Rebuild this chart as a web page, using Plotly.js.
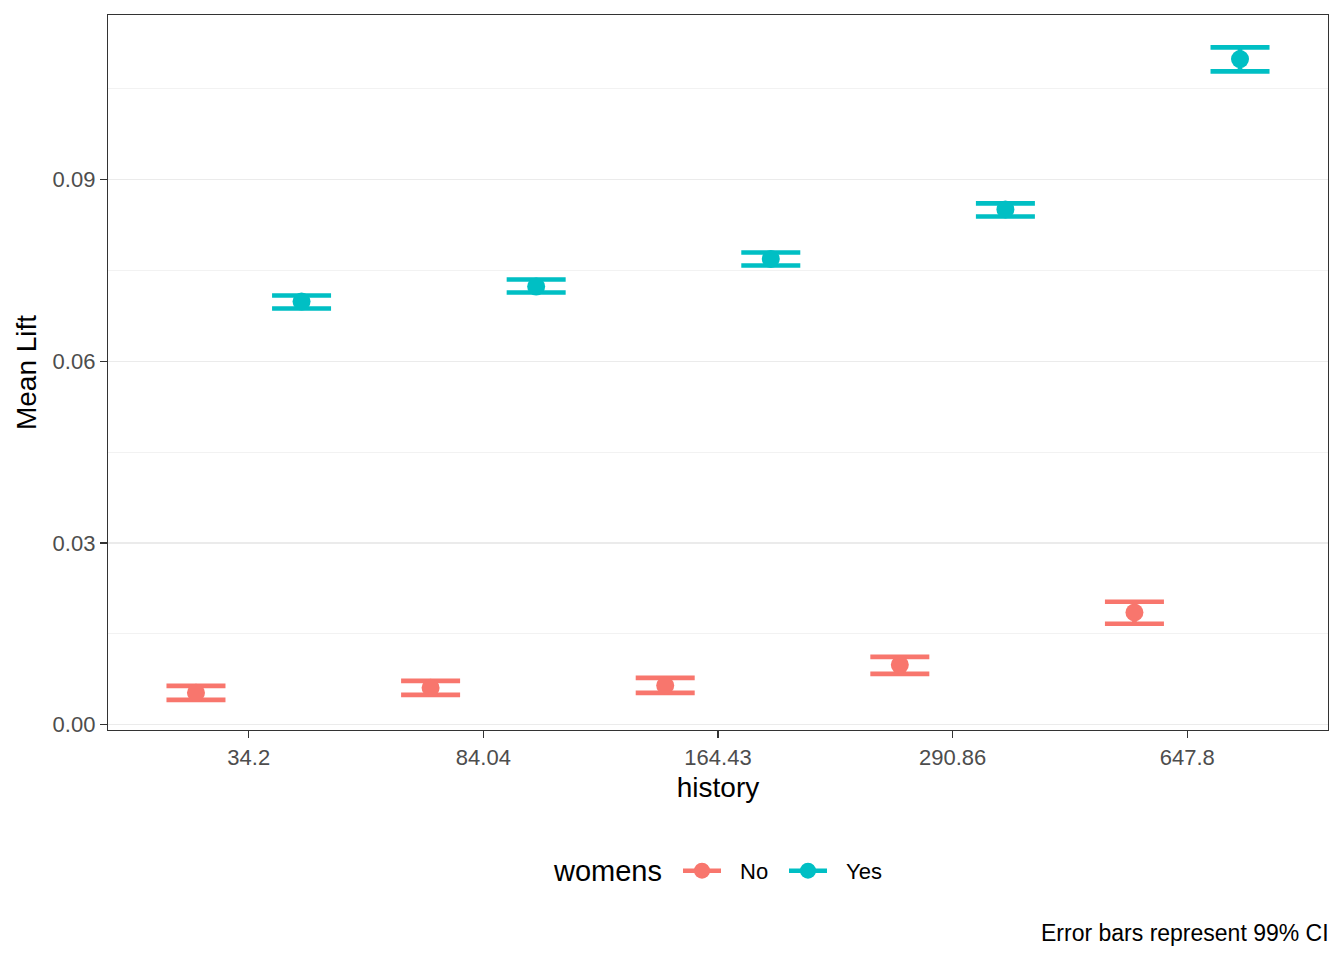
<!DOCTYPE html>
<html>
<head>
<meta charset="utf-8">
<script src="https://cdn.plot.ly/plotly-3.0.1.min.js"></script>
<style>html,body{margin:0;padding:0;background:#fff}#chart{width:1344px;height:960px}</style>
</head>
<body>
<div id="chart"></div>
<script>
const categories = ["34.2", "84.04", "164.43", "290.86", "647.8"];
const groups = ["No", "Yes"];
const meanNo = [0.00524, 0.00607, 0.00645, 0.00987, 0.01851];
const upperNo = [0.00640, 0.00722, 0.00772, 0.01119, 0.02028];
const lowerNo = [0.00408, 0.00491, 0.00524, 0.00838, 0.01665];
const meanYes = [0.06987, 0.07235, 0.07691, 0.08508, 0.10992];
const upperYes = [0.07087, 0.07351, 0.07797, 0.08607, 0.11186];
const lowerYes = [0.06872, 0.07136, 0.07582, 0.08392, 0.10789];
const yTicks = [0, 0.03, 0.06, 0.09];
const yTickText = ["0.00", "0.03", "0.06", "0.09"];

const colors = {No: "#F8766D", Yes: "#00BFC4"};
const dodge = 0.225;
const FONT = "Liberation Sans, Arial, sans-serif";
const PAD = "\u00a0\u00a0\u200a";

function makeTrace(name, mean, upper, lower, shift) {
  return {
    type: "scatter",
    mode: "markers",
    name: name,
    showlegend: false,
    x: categories.map((c, i) => i + shift),
    y: mean,
    marker: {color: colors[name], size: 18},
    error_y: {
      type: "data",
      symmetric: false,
      array: upper.map((u, i) => u - mean[i]),
      arrayminus: mean.map((m, i) => m - lower[i]),
      color: colors[name],
      thickness: 4.7,
      width: 29.5
    },
    hoverinfo: "skip"
  };
}

const traces = [
  makeTrace("No", meanNo, upperNo, lowerNo, -dodge),
  makeTrace("Yes", meanYes, upperYes, lowerYes, dodge)
];
groups.forEach(g => {
  traces.push({
    type: "scatter",
    mode: "lines+markers",
    name: PAD + g,
    x: [null], y: [null],
    line: {color: colors[g], width: 4.5},
    marker: {color: colors[g], size: 18},
    showlegend: true
  });
});

const layout = {
  width: 1344,
  height: 960,
  margin: {l: 108, r: 16, t: 15, b: 230},
  paper_bgcolor: "#ffffff",
  plot_bgcolor: "#ffffff",
  font: {family: FONT, color: "#000000"},
  showlegend: true,
  xaxis: {
    range: [-0.6, 4.6],
    tickvals: categories.map((c, i) => i),
    ticktext: categories,
    showgrid: false,
    zeroline: false,
    showline: true,
    mirror: true,
    linecolor: "#333333",
    linewidth: 1.2,
    ticks: "outside",
    ticklen: 7,
    tickwidth: 1.4,
    tickcolor: "#333333",
    tickfont: {family: FONT, size: 22, color: "#4d4d4d"},
    title: {text: "history", font: {family: FONT, size: 28, color: "#000000"}, standoff: 8}
  },
  yaxis: {
    range: [-0.0009, 0.1172],
    tickvals: yTicks,
    ticktext: yTickText,
    showgrid: true,
    gridcolor: "#ebebeb",
    gridwidth: 1.3,
    minor: {dtick: 0.015, tick0: 0, showgrid: true, gridcolor: "#f2f2f2", gridwidth: 1, ticks: ""},
    zeroline: false,
    showline: true,
    mirror: true,
    linecolor: "#333333",
    linewidth: 1.2,
    ticks: "outside",
    ticklen: 7,
    tickwidth: 1.4,
    tickcolor: "#333333",
    tickfont: {family: FONT, size: 22, color: "#4d4d4d"},
    title: {text: "Mean Lift", font: {family: FONT, size: 28, color: "#000000"}, standoff: 7}
  },
  legend: {
    orientation: "h",
    x: (678 - 108) / 1220,
    xanchor: "left",
    y: -0.197,
    yanchor: "middle",
    font: {family: FONT, size: 22, color: "#000000"},
    itemwidth: 38,
    entrywidth: 53,
    bgcolor: "rgba(0,0,0,0)"
  },
  annotations: [{
    text: "womens",
    xref: "paper", yref: "paper",
    x: (664 - 108) / 1220, y: -0.197,
    xanchor: "right", yanchor: "middle",
    showarrow: false,
    font: {family: FONT, size: 29, color: "#000000"}
  }, {
    text: "Error bars represent 99% CI",
    xref: "paper", yref: "paper",
    x: 1, y: -0.284,
    xanchor: "right", yanchor: "middle",
    xshift: 3,
    showarrow: false,
    font: {family: FONT, size: 23, color: "#000000"}
  }]
};

Plotly.newPlot("chart", traces, layout, {displayModeBar: false, staticPlot: true});
</script>
</body>
</html>
